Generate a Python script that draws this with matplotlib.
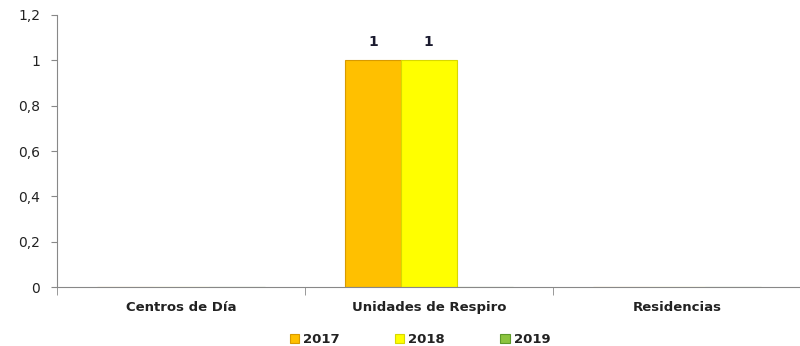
import matplotlib.pyplot as plt
import numpy as np
from matplotlib.ticker import FixedLocator, FuncFormatter

categories = ["Centros de Día", "Unidades de Respiro", "Residencias"]
years = ["2017", "2018", "2019"]
values = {
    "2017": [0, 1, 0],
    "2018": [0, 1, 0],
    "2019": [0, 0, 0],
}
colors = {"2017": "#FFC000", "2018": "#FFFF00", "2019": "#8CC43F"}
edges = {"2017": "#D89A00", "2018": "#D8D800", "2019": "#5E9A2A"}

plt.rcParams['font.family'] = ['DejaVu Sans']

fig = plt.figure(figsize=(8, 3.46), dpi=100)
ax = fig.add_axes([0.071, 0.17, 0.93, 0.787])

x = np.arange(len(categories))
w = 0.225
for i, yr in enumerate(years):
    vals = values[yr]
    bars = ax.bar(x + (i - 1) * w, vals, w, color=colors[yr], edgecolor=edges[yr],
                  linewidth=0.8, label=yr, zorder=2)
    for b, v in zip(bars, vals):
        if v:
            ax.text(b.get_x() + b.get_width() / 2, v + 0.05, f"{v:g}", ha="center",
                    va="bottom", fontsize=10, fontweight="bold", color="#1a1a2e")


def fmt(v, pos):
    if abs(v - round(v)) < 1e-9:
        return str(int(round(v)))
    return f"{v:.1f}".replace(".", ",")


ax.set_xlim(-0.5, 2.5)
ax.set_ylim(0, 1.2)
ax.set_yticks(np.arange(0, 1.21, 0.2))
ax.yaxis.set_major_formatter(FuncFormatter(fmt))
ax.set_xticks(x)
ax.set_xticklabels(categories, fontsize=9.5, fontweight="bold", color="#222222")
ax.tick_params(axis="x", length=0, pad=10)
ax.xaxis.set_minor_locator(FixedLocator([-0.5, 0.5, 1.5, 2.5]))
ax.tick_params(axis="x", which="minor", length=6, color="#888888")
ax.tick_params(axis="y", length=4, color="#888888", labelsize=10, labelcolor="#222222", pad=8)

for s in ["top", "right"]:
    ax.spines[s].set_visible(False)
for s in ["left", "bottom"]:
    ax.spines[s].set_color("#888888")

leg = fig.legend(loc="lower center", bbox_to_anchor=(0.525, -0.035), ncol=3, frameon=False,
                 fontsize=9.5, handlelength=0.7, handleheight=0.7, columnspacing=4.2,
                 handletextpad=0.3)
for t in leg.get_texts():
    t.set_fontweight("bold")
    t.set_color("#222222")

fig.savefig("out.png", dpi=100)
